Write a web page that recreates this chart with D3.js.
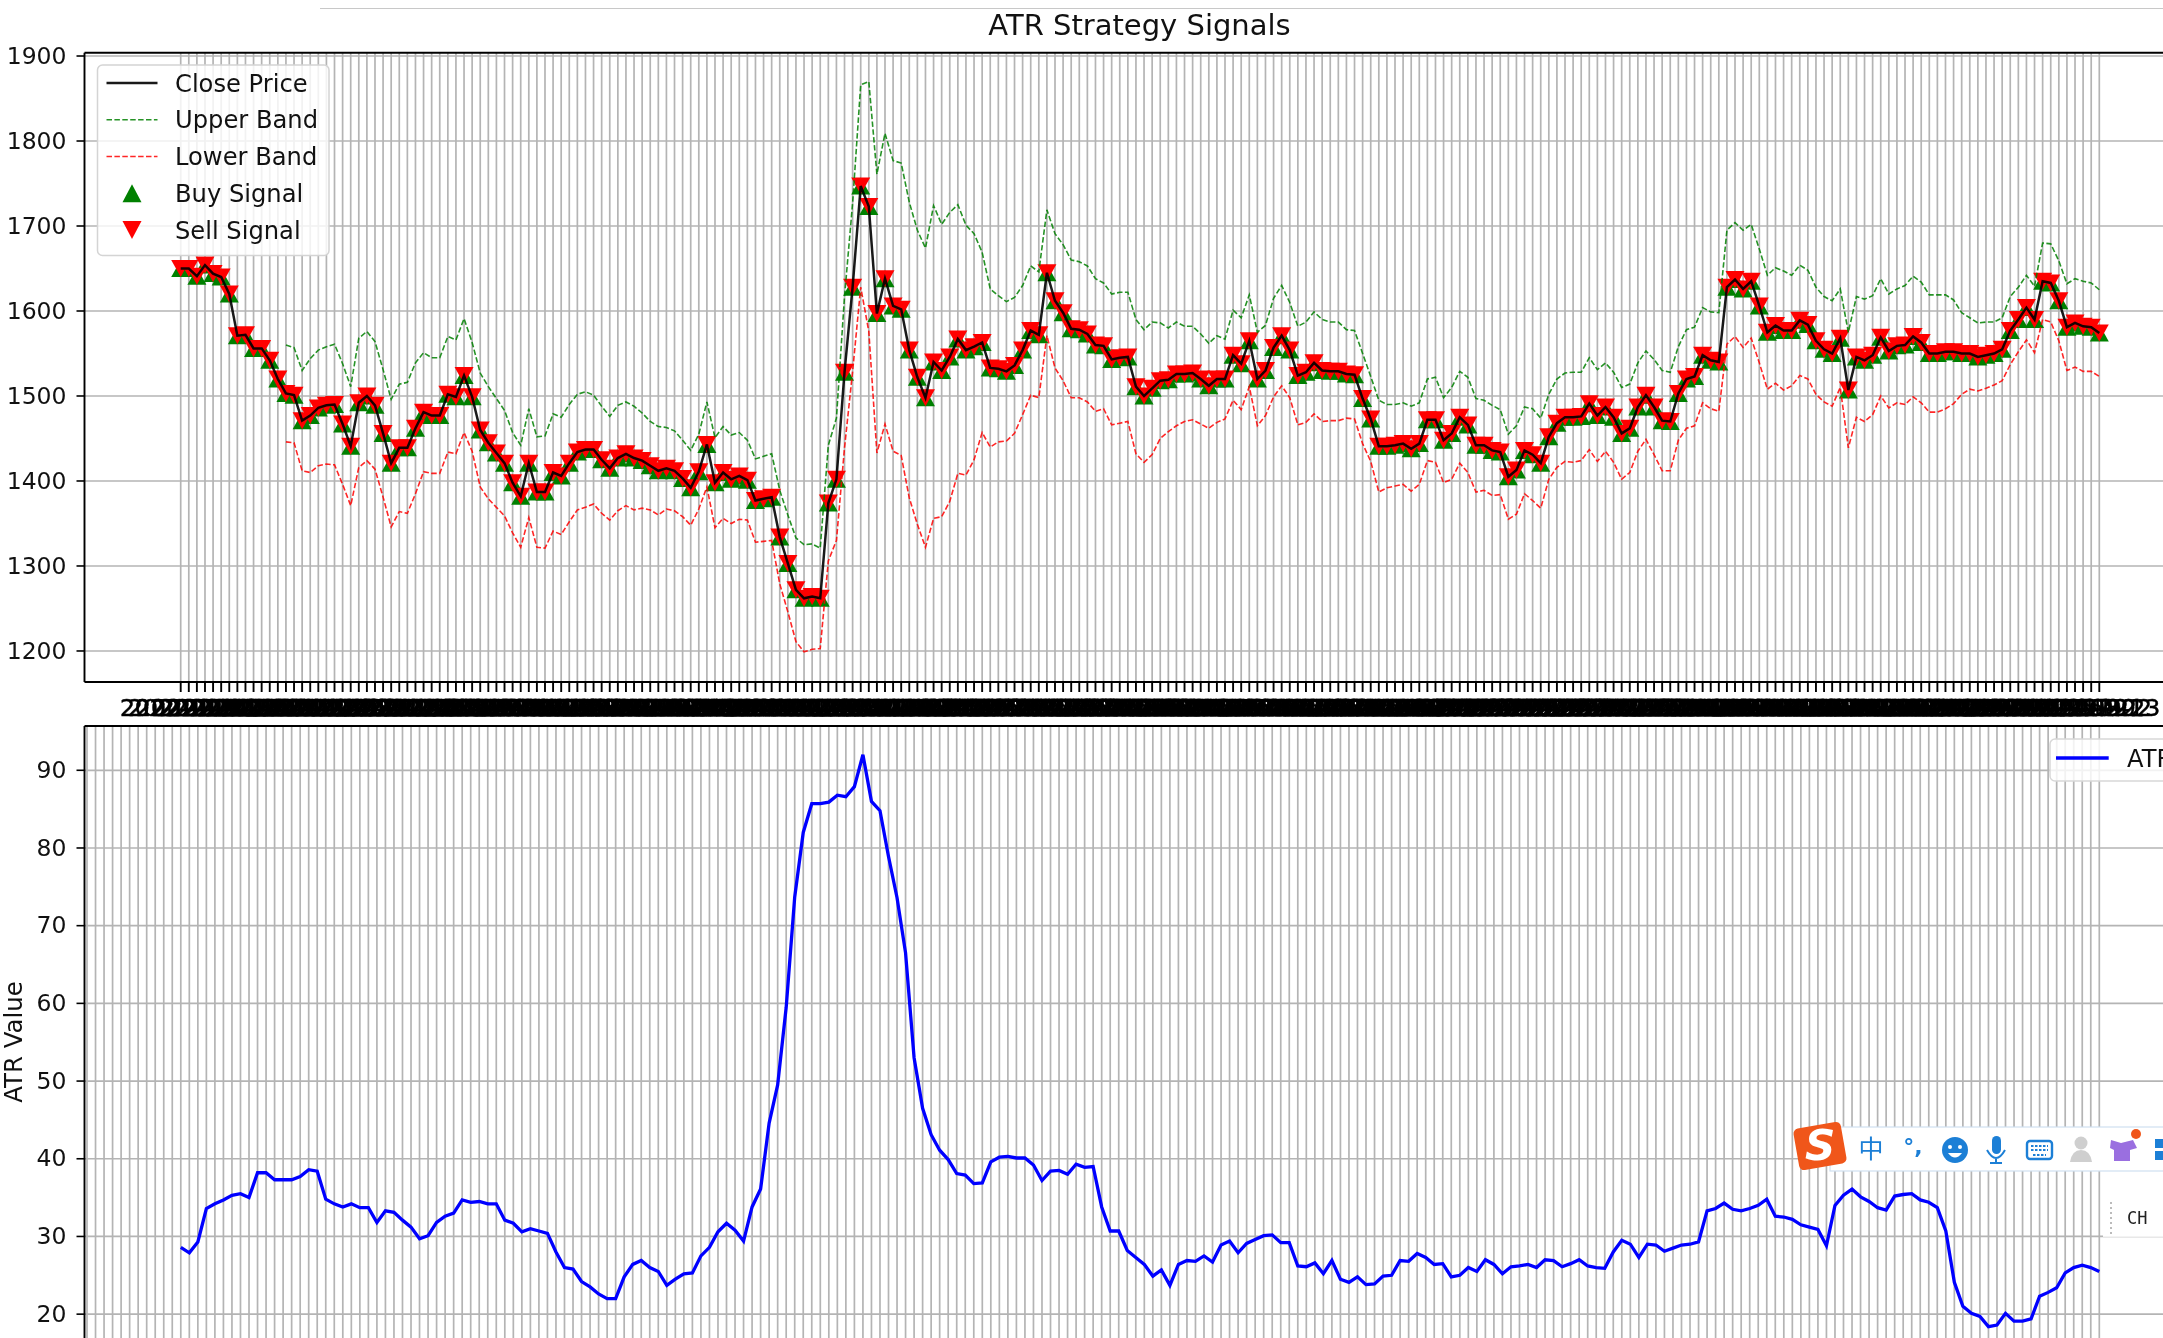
<!DOCTYPE html>
<html><head><meta charset="utf-8">
<script src="https://cdn.jsdelivr.net/npm/d3@7"></script>
<style>
html,body{margin:0;padding:0;background:#fff;overflow:hidden}
svg{display:block;filter:blur(0.6px)}
text{font-family:"DejaVu Sans",sans-serif;fill:#111}
</style></head><body>
<svg id="c" width="2163" height="1338"></svg>
<script>
const chartTitle = "ATR Strategy Signals";
const firstDate = "2022-01-29";
const closeCount = 238;
const leadingEmptyAtr = 11;
const priceTicks = [1200,1300,1400,1500,1600,1700,1800,1900];
const atrTicks = [20,30,40,50,60,70,80,90];
const closePrice = [
1650,1650,1641,1654,1644,1640,1620,1571,1572,1556,
1556,1542,1520,1503,1501,1471,1477,1486,1489,1490,
1467,1441,1492,1500,1489,1456,1421,1439,1439,1462,
1481,1477,1477,1502,1499,1524,1499,1460,1445,1433,
1421,1398,1382,1421,1387,1387,1410,1406,1421,1434,
1437,1437,1425,1415,1427,1432,1427,1424,1418,1412,
1415,1412,1403,1392,1411,1443,1398,1410,1402,1406,
1401,1377,1379,1381,1334,1303,1272,1262,1264,1262,
1374,1402,1528,1628,1747,1723,1597,1638,1606,1602,
1554,1522,1498,1540,1530,1546,1567,1554,1558,1563,
1533,1532,1529,1536,1554,1577,1572,1645,1612,1598,
1579,1578,1573,1560,1559,1543,1545,1546,1511,1500,
1509,1518,1519,1526,1526,1527,1520,1512,1520,1520,
1548,1538,1565,1520,1530,1557,1571,1554,1524,1528,
1539,1530,1529,1529,1526,1525,1497,1473,1441,1441,
1442,1444,1438,1444,1472,1472,1448,1456,1475,1466,
1442,1442,1436,1434,1405,1413,1436,1431,1421,1452,
1468,1475,1475,1476,1491,1477,1487,1475,1456,1462,
1487,1501,1487,1471,1470,1503,1520,1523,1548,1542,
1540,1628,1637,1626,1635,1606,1575,1583,1577,1577,
1589,1584,1565,1555,1550,1568,1507,1546,1542,1548,
1569,1553,1559,1560,1570,1563,1550,1550,1552,1552,
1550,1550,1546,1548,1550,1555,1577,1590,1604,1590,
1635,1633,1612,1581,1586,1582,1581,1574];
const upperBand = [
null,null,null,null,null,null,null,null,null,null,null,null,null,
1560,1557,1530,1544,1554,1558,1561,1538,1511,1568,1576,1564,1531,1496,1514,1516,1539,
1551,1545,1545,1570,1566,1591,1563,1527,1511,1497,1483,1457,1442,1485,1452,1453,1479,
1475,1490,1502,1505,1501,1488,1476,1489,1493,1488,1480,1470,1464,1463,1459,1448,1436,
1455,1493,1451,1464,1454,1457,1448,1426,1429,1432,1389,1360,1333,1325,1326,1321,1442,
1474,1617,1727,1866,1870,1761,1809,1777,1774,1728,1695,1674,1724,1702,1716,1725,1701,
1691,1669,1626,1618,1611,1616,1630,1653,1646,1719,1691,1678,1660,1658,1653,1638,1633,
1620,1622,1622,1590,1578,1587,1586,1580,1587,1582,1582,1573,1562,1571,1567,1601,1592,
1619,1575,1583,1615,1630,1610,1582,1587,1599,1590,1587,1587,1578,1577,1550,1523,1495,
1490,1490,1492,1488,1492,1520,1522,1498,1510,1529,1522,1497,1495,1489,1484,1455,1465,
1487,1485,1474,1502,1520,1527,1528,1528,1545,1531,1539,1528,1510,1514,1539,1553,1543,
1530,1528,1558,1578,1581,1604,1599,1598,1695,1704,1695,1702,1673,1642,1651,1647,1642,
1654,1648,1628,1617,1612,1626,1575,1617,1614,1618,1638,1620,1626,1630,1641,1634,1619,
1619,1619,1613,1598,1592,1586,1587,1587,1592,1617,1628,1642,1629,1680,1679,1659,1632,
1638,1635,1633,1625];
const lowerBand = [
null,null,null,null,null,null,null,null,null,null,null,null,null,
1446,1445,1412,1410,1418,1420,1419,1396,1371,1416,1424,1414,1381,1346,1364,1362,1385,
1411,1409,1409,1434,1432,1457,1435,1393,1379,1369,1359,1339,1322,1357,1322,1321,1341,
1337,1352,1366,1369,1373,1362,1354,1365,1371,1366,1368,1366,1360,1367,1365,1358,1348,
1367,1393,1345,1356,1350,1355,1354,1328,1329,1330,1279,1246,1211,1199,1202,1203,1306,
1330,1439,1529,1628,1576,1433,1467,1435,1430,1380,1349,1322,1356,1358,1376,1409,1407,
1425,1457,1440,1446,1447,1456,1478,1501,1498,1571,1533,1518,1498,1498,1493,1482,1485,
1466,1468,1470,1432,1422,1431,1450,1458,1465,1470,1472,1467,1462,1469,1473,1495,1484,
1511,1465,1477,1499,1512,1498,1466,1469,1479,1470,1471,1471,1474,1473,1444,1423,1387,
1392,1394,1396,1388,1396,1424,1422,1398,1402,1421,1410,1387,1389,1383,1384,1355,1361,
1385,1377,1368,1402,1416,1423,1422,1424,1437,1423,1435,1422,1402,1410,1435,1449,1431,
1412,1412,1448,1462,1465,1492,1485,1482,1561,1570,1557,1568,1539,1508,1515,1507,1512,
1524,1520,1502,1493,1488,1510,1439,1475,1470,1478,1500,1486,1492,1490,1499,1492,1481,
1481,1485,1491,1502,1508,1506,1509,1513,1518,1537,1552,1566,1551,1590,1587,1565,1530,
1534,1529,1529,1523];
const atrValues = [
28.6,27.9,29.3,33.6,34.2,34.7,35.3,35.5,35.0,38.2,38.2,37.3,37.3,37.3,37.7,38.6,38.4,34.8,34.2,33.8,
34.2,33.7,33.7,31.8,33.3,33.1,32.1,31.2,29.7,30.1,31.8,32.6,33.0,34.7,34.4,34.5,34.2,34.2,32.1,31.7,
30.6,31.0,30.7,30.4,28.0,26.0,25.8,24.2,23.5,22.6,22.0,22.0,24.8,26.4,26.9,26.0,25.5,23.7,24.5,25.2,
25.3,27.5,28.6,30.6,31.7,30.8,29.4,33.8,36.1,44.6,49.5,59.5,73.7,82.0,85.7,85.7,85.9,86.8,86.6,87.9,
92.0,86.0,84.8,78.9,73.6,66.5,53.0,46.5,43.1,41.1,39.9,38.1,37.9,36.8,36.9,39.6,40.2,40.3,40.1,40.1,
39.2,37.2,38.4,38.5,38.0,39.3,38.9,39.0,33.8,30.7,30.7,28.2,27.3,26.4,24.9,25.7,23.7,26.4,26.9,26.8,
27.5,26.7,28.9,29.4,27.9,29.1,29.6,30.1,30.2,29.2,29.2,26.2,26.1,26.6,25.2,26.9,24.5,24.1,24.8,23.8,
23.9,24.9,25.0,26.9,26.8,27.8,27.3,26.4,26.5,24.8,25.0,26.0,25.5,27.0,26.4,25.2,26.1,26.2,26.4,26.0,
27.0,26.9,26.1,26.5,27.0,26.2,26.0,25.9,28.0,29.5,29.0,27.3,29.0,28.9,28.1,28.5,28.9,29.0,29.3,33.3,
33.6,34.3,33.5,33.3,33.6,34.0,34.8,32.6,32.5,32.2,31.5,31.2,30.9,28.8,34.0,35.3,36.1,35.1,34.5,33.7,
33.4,35.2,35.4,35.5,34.7,34.4,33.7,30.7,24.1,21.0,20.1,19.7,18.4,18.6,20.1,19.1,19.1,19.4,22.3,22.8,
23.4,25.3,26.0,26.3,26.0,25.5];

const fmt = d3.timeFormat("%Y-%-m-%-d");
const startDay = d3.timeParse("%Y-%m-%d")(firstDate);
const closeDates = d3.range(closeCount).map(i => fmt(d3.timeDay.offset(startDay, i)));
const atrCats = d3.range(atrValues.length + leadingEmptyAtr);

const svg = d3.select("#c");
const L = 84.5, R = 2163;
const x1 = d3.scalePoint().domain(closeDates).range([180.7, 2099.3]);
const y1 = d3.scaleLinear().domain([1903.9, 1163.5]).range([52.7, 682]);
const x2 = d3.scalePoint().domain(atrCats).range([87, 2099.3]);
const y2 = d3.scaleLinear().domain([95.7, 15]).range([726, 1353]);
const grey = "#b4b4b4";
const plain = d3.format("d");

svg.append("line").attr("x1",320).attr("x2",R).attr("y1",8.5).attr("y2",8.5).attr("stroke","#c8c8c8").attr("stroke-width",1.2);
svg.append("text").attr("x",1139.5).attr("y",35).attr("text-anchor","middle").attr("font-size",29).text(chartTitle);

// ---------- top panel
const topG = svg.append("g");
function styleGrid(g){
  g.selectAll(".tick line").attr("stroke",grey).attr("stroke-width",1.7);
  g.select(".domain").remove();
  g.selectAll("text").remove();
}
topG.append("g").attr("transform",`translate(0,682)`)
  .call(d3.axisBottom(x1).offset(0).tickSize(-(682-52.7)).tickFormat("")).call(styleGrid);
topG.append("g").attr("transform",`translate(${L},0)`)
  .call(d3.axisRight(y1).offset(0).tickValues(priceTicks).tickSize(R-L).tickFormat("")).call(styleGrid);

const mk = topG.append("g");
mk.selectAll("path.b").data(closePrice).join("path").attr("class","b")
  .attr("d","M0,-8.5L9.5,8.5L-9.5,8.5Z").attr("fill","#008000")
  .attr("transform",(d,i)=>`translate(${x1(closeDates[i])},${y1(d)})`);
mk.selectAll("path.s").data(closePrice).join("path").attr("class","s")
  .attr("d","M0,8.5L9.5,-8.5L-9.5,-8.5Z").attr("fill","#ff0000")
  .attr("transform",(d,i)=>`translate(${x1(closeDates[i])},${y1(d)})`);

const lineCat = (xs,ys,cats)=>d3.line().defined(d=>d!=null).x((d,i)=>xs(cats[i])).y(d=>ys(d));
const ln = lineCat(x1,y1,closeDates);
topG.append("path").attr("d",ln(closePrice)).attr("fill","none").attr("stroke","#000").attr("stroke-opacity",.9).attr("stroke-width",2.5);
topG.append("path").attr("d",ln(upperBand)).attr("fill","none").attr("stroke","#008000").attr("stroke-opacity",.85).attr("stroke-width",1.6).attr("stroke-dasharray","5.5,2.4");
topG.append("path").attr("d",ln(lowerBand)).attr("fill","none").attr("stroke","#ff0000").attr("stroke-opacity",.85).attr("stroke-width",1.6).attr("stroke-dasharray","5.5,2.4");

const axB = d3.axisBottom(x1).offset(0).tickSize(10).tickPadding(7.4);
topG.append("g").attr("transform","translate(0,682)").call(axB).call(g=>{
  g.select(".domain").remove();
  g.selectAll(".tick line").attr("stroke","#000").attr("stroke-width",1.9);
  g.selectAll("text").attr("font-size",23.5).style("fill","#000").style("stroke","#000").style("stroke-width",.5);
});
const axL = d3.axisLeft(y1).offset(0).tickValues(priceTicks).tickFormat(plain).tickSize(8).tickPadding(10);
topG.append("g").attr("transform",`translate(${L},0)`).call(axL).call(g=>{
  g.select(".domain").remove();
  g.selectAll(".tick line").attr("stroke","#000").attr("stroke-width",1.6);
  g.selectAll("text").attr("font-size",23.5);
});
const spine=(x1_,y1_,x2_,y2_)=>svg.append("line").attr("x1",x1_).attr("y1",y1_).attr("x2",x2_).attr("y2",y2_).attr("stroke","#000").attr("stroke-width",1.9);
spine(L,52.7,L,682); spine(L,52.7,R,52.7); spine(L,682,R,682);

// legend top
const lg = svg.append("g");
lg.append("rect").attr("x",97.5).attr("y",65).attr("width",231.5).attr("height",190.5).attr("rx",5)
  .attr("fill","#fff").attr("fill-opacity",.82).attr("stroke","#d4d4d4").attr("stroke-width",1.5);
const legendRows = [
 {t:"Close Price",c:"#000",k:"line",w:2.5,o:.9},
 {t:"Upper Band",c:"#008000",k:"dash",w:1.6,o:.85},
 {t:"Lower Band",c:"#ff0000",k:"dash",w:1.6,o:.85},
 {t:"Buy Signal",c:"#008000",k:"up"},
 {t:"Sell Signal",c:"#ff0000",k:"down"}];
const rowY = d3.scalePoint().domain(legendRows.map(d=>d.t)).range([83,230]);
legendRows.forEach(d=>{
  const y=rowY(d.t);
  if(d.k==="line"||d.k==="dash"){
    lg.append("line").attr("x1",106.5).attr("x2",157.5).attr("y1",y).attr("y2",y).attr("stroke",d.c).attr("stroke-width",d.w).attr("stroke-opacity",d.o)
      .attr("stroke-dasharray",d.k==="dash"?"5.5,2.4":null);
  } else {
    lg.append("path").attr("transform",`translate(132,${y})`).attr("fill",d.c)
      .attr("d",d.k==="up"?"M0,-9L9.5,9L-9.5,9Z":"M0,9L9.5,-9L-9.5,-9Z");
  }
  lg.append("text").attr("x",175).attr("y",y+8.5).attr("font-size",24.2).text(d.t);
});

// ---------- bottom panel
const botG = svg.append("g");
botG.append("g").attr("transform","translate(0,1353)")
  .call(d3.axisBottom(x2).offset(0).tickSize(-(1353-726)).tickFormat("")).call(styleGrid);
botG.append("g").attr("transform",`translate(${L},0)`)
  .call(d3.axisRight(y2).offset(0).tickValues(atrTicks).tickSize(R-L).tickFormat("")).call(styleGrid);
const atrLine = d3.line().x((d,i)=>x2(i+leadingEmptyAtr)).y(d=>y2(d));
botG.append("path").attr("d",atrLine(atrValues)).attr("fill","none").attr("stroke","#0000ff").attr("stroke-width",3.3);
botG.append("g").attr("transform",`translate(${L},0)`).call(d3.axisLeft(y2).offset(0).tickValues(atrTicks).tickFormat(plain).tickSize(8).tickPadding(10)).call(g=>{
  g.select(".domain").remove();
  g.selectAll(".tick line").attr("stroke","#000").attr("stroke-width",1.6);
  g.selectAll("text").attr("font-size",23.5);
});
spine(L,726,L,1338); spine(L,726,R,726);
svg.append("text").attr("transform","translate(22,1042) rotate(-90)").attr("text-anchor","middle").attr("font-size",24.4).text("ATR Value");

// legend bottom
svg.append("rect").attr("x",2050).attr("y",739).attr("width",130).attr("height",42).attr("rx",5).attr("fill","#fff").attr("fill-opacity",.82).attr("stroke","#d8d8d8").attr("stroke-width",1.5);
svg.append("line").attr("x1",2056).attr("x2",2108.7).attr("y1",758).attr("y2",758).attr("stroke","#0000ff").attr("stroke-width",3.3);
svg.append("text").attr("x",2127).attr("y",767).attr("font-size",24.2).text("ATR");

// ---------- on-screen toolbar captured in the reference
const ime = svg.append("g");
ime.append("rect").attr("x",1830).attr("y",1127).attr("width",340).attr("height",44).attr("fill","#fff").attr("stroke","#cfdff0").attr("stroke-width",1.2);
ime.append("rect").attr("x",1796).attr("y",1125).attr("width",48).attr("height",42).attr("rx",5).attr("fill","#f0561a").attr("transform","rotate(-10 1820 1146)");
ime.append("text").attr("x",1820).attr("y",1160).attr("text-anchor","middle").attr("font-size",42).attr("font-weight","bold").attr("font-style","italic").style("fill","#fff").text("S");
ime.append("text").attr("x",1871).attr("y",1158).attr("text-anchor","middle").style("font-family",'"Noto Sans CJK SC"').attr("font-size",25).style("fill","#1c7fd6").text("中");
ime.append("text").attr("x",1913).attr("y",1154).attr("text-anchor","middle").attr("font-size",22).attr("font-weight","bold").style("fill","#1c7fd6").text("°,");
ime.append("circle").attr("cx",1955).attr("cy",1150).attr("r",13).attr("fill","#1c7fd6");
ime.append("circle").attr("cx",1950).attr("cy",1147).attr("r",2).attr("fill","#fff");
ime.append("circle").attr("cx",1960).attr("cy",1147).attr("r",2).attr("fill","#fff");
ime.append("path").attr("d","M1948,1153 Q1955,1162 1962,1153Z").attr("fill","#fff");
ime.append("rect").attr("x",1992).attr("y",1136).attr("width",9).attr("height",18).attr("rx",4.5).attr("fill","#1c7fd6");
ime.append("path").attr("d","M1987,1150 Q1996,1166 2005,1150 M1996,1158V1163 M1990,1163H2002").attr("fill","none").attr("stroke","#1c7fd6").attr("stroke-width",2);
ime.append("rect").attr("x",2027).attr("y",1141).attr("width",25).attr("height",18).attr("rx",3).attr("fill","none").attr("stroke","#1c7fd6").attr("stroke-width",2.4);
ime.append("path").attr("d","M2031,1146H2048 M2031,1150H2048 M2033,1155H2046").attr("stroke","#1c7fd6").attr("stroke-width",2).attr("stroke-dasharray","2.5,1.5");
ime.append("circle").attr("cx",2081).attr("cy",1143).attr("r",6.5).attr("fill","#cfcfcf");
ime.append("path").attr("d","M2070,1162 Q2072,1150 2081,1150 Q2090,1150 2092,1162Z").attr("fill","#cfcfcf");
ime.append("path").attr("d","M2111,1140 L2121,1143 L2133,1140 L2137,1148 L2130,1150 L2130,1161 L2114,1161 L2114,1150 L2110,1148Z").attr("fill","#9a6fe0");
ime.append("circle").attr("cx",2136).attr("cy",1134).attr("r",5).attr("fill","#f0561a");
ime.append("rect").attr("x",2155).attr("y",1139).attr("width",10).attr("height",9).attr("fill","#1c7fd6");
ime.append("rect").attr("x",2155).attr("y",1151).attr("width",10).attr("height",9).attr("fill","#1c7fd6");
ime.append("rect").attr("x",2103).attr("y",1200).attr("width",62).attr("height",37).attr("fill","#fff");
ime.append("line").attr("x1",2103).attr("x2",2163).attr("y1",1237).attr("y2",1237).attr("stroke","#e6e6e6");
ime.append("line").attr("x1",2111).attr("x2",2111).attr("y1",1202).attr("y2",1236).attr("stroke","#bbb").attr("stroke-width",2).attr("stroke-dasharray","2,3");
ime.append("text").attr("x",2127).attr("y",1224).style("font-family",'"DejaVu Sans Mono"').attr("font-size",17).style("fill","#222").text("CH");
</script>
</body></html>
